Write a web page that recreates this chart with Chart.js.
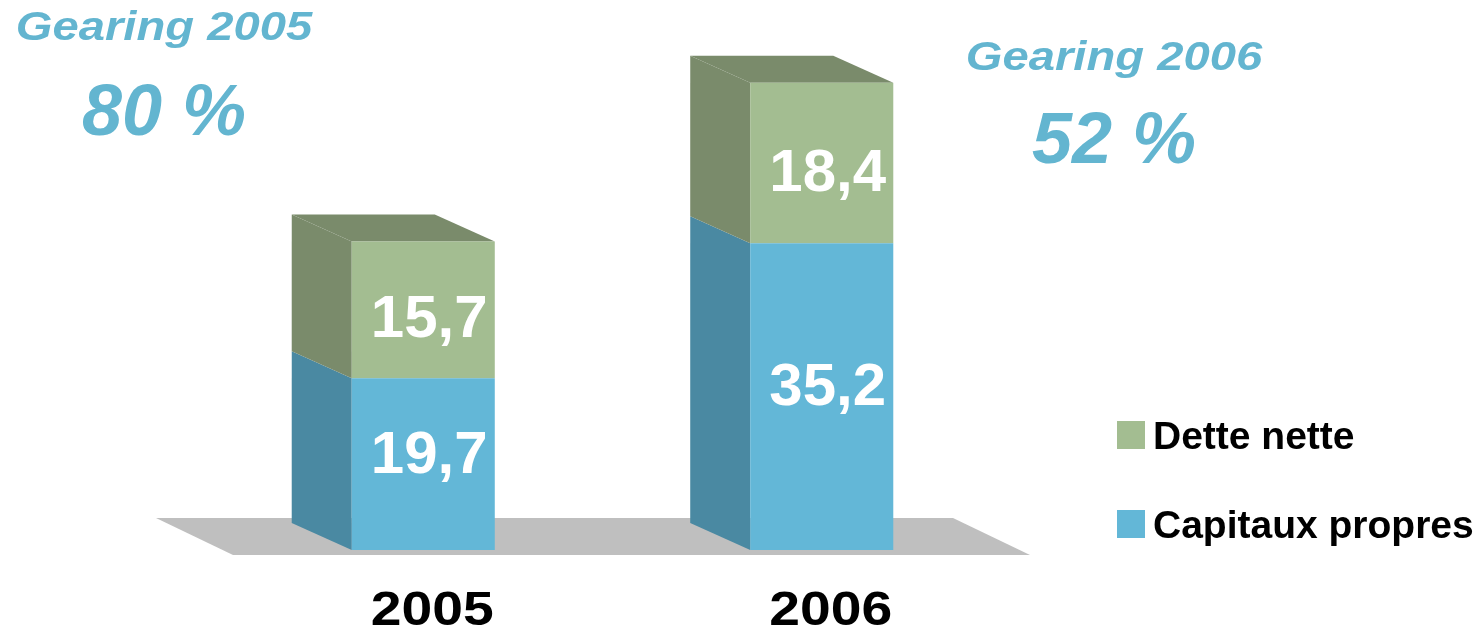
<!DOCTYPE html>
<html>
<head>
<meta charset="utf-8">
<script src="https://cdn.jsdelivr.net/npm/chart.js@4/dist/chart.umd.min.js"></script>
<style>
  html, body { margin: 0; padding: 0; background: #ffffff; }
  #wrap { position: relative; width: 1483px; height: 629px; }
</style>
</head>
<body>
<div id="wrap"><canvas id="c"></canvas></div>
<script>
// ---- data ----
const categories = ['2005', '2006'];
const capitauxPropres = [19.7, 35.2];
const detteNette = [15.7, 18.4];
const gearingTitles = ['Gearing 2005', 'Gearing 2006'];
const gearingValues = ['80 %', '52 %'];
const seriesNames = ['Capitaux propres', 'Dette nette'];

// ---- styles ----
const FONT = '"Liberation Sans", Arial, sans-serif';
const BLUE = '#63b7d7', BLUE_SIDE = '#4a89a2';
const GREEN = '#a3bd91', GREEN_SIDE = '#7a8b6b';
const GEAR = '#63b5d0';
const FLOOR = '#bfbfbf';
const DEPTH_X = -60, DEPTH_Y = -27;

const sideColors = [BLUE_SIDE, GREEN_SIDE];
const labelShiftY = [-10, 9];

const fmt = v => String(v).replace('.', ',');

function stretchedText(ctx, text, x, y, sx) {
  ctx.save();
  ctx.translate(x, y);
  ctx.scale(sx, 1);
  ctx.fillText(text, 0, 0);
  ctx.restore();
}

const threeD = {
  id: 'threeD',
  beforeDatasetsDraw(chart) {
    const ctx = chart.ctx;
    const area = chart.chartArea;
    const y0 = chart.scales.y.getPixelForValue(0);
    // floor
    ctx.save();
    ctx.fillStyle = FLOOR;
    const fx0 = area.left + 9, fx1 = area.right + 9, fy = y0 + 5;
    ctx.beginPath();
    ctx.moveTo(fx0, fy);
    ctx.lineTo(fx1, fy);
    ctx.lineTo(fx1 - 77, fy - 37);
    ctx.lineTo(fx0 - 77, fy - 37);
    ctx.closePath();
    ctx.fill();
    // side and top faces
    const n = chart.data.datasets.length;
    chart.data.datasets.forEach((ds, di) => {
      const meta = chart.getDatasetMeta(di);
      meta.data.forEach(bar => {
        const p = bar.getProps(['x', 'y', 'base', 'width'], true);
        const left = p.x - p.width / 2, right = p.x + p.width / 2;
        const top = Math.min(p.y, p.base), bottom = Math.max(p.y, p.base);
        ctx.fillStyle = sideColors[di];
        ctx.beginPath();
        ctx.moveTo(left, bottom);
        ctx.lineTo(left, top);
        ctx.lineTo(left + DEPTH_X, top + DEPTH_Y);
        ctx.lineTo(left + DEPTH_X, bottom + DEPTH_Y);
        ctx.closePath();
        ctx.fill();
        if (di === n - 1) {
          ctx.fillStyle = GREEN_SIDE;
          ctx.beginPath();
          ctx.moveTo(left, top);
          ctx.lineTo(right, top);
          ctx.lineTo(right + DEPTH_X, top + DEPTH_Y);
          ctx.lineTo(left + DEPTH_X, top + DEPTH_Y);
          ctx.closePath();
          ctx.fill();
        }
      });
    });
    ctx.restore();
  },
  afterDatasetsDraw(chart) {
    const ctx = chart.ctx;
    ctx.save();
    ctx.fillStyle = '#ffffff';
    ctx.font = 'bold 60px ' + FONT;
    ctx.textAlign = 'center';
    ctx.textBaseline = 'middle';
    chart.data.datasets.forEach((ds, di) => {
      const meta = chart.getDatasetMeta(di);
      meta.data.forEach((bar, i) => {
        const p = bar.getProps(['x', 'y', 'base'], true);
        ctx.fillText(fmt(ds.data[i]), p.x + 6, (p.y + p.base) / 2 + 2 + labelShiftY[di]);
      });
    });
    // category labels under the bars, from the x scale
    const xs = chart.scales.x;
    ctx.fillStyle = '#000000';
    ctx.font = 'bold 48px ' + FONT;
    ctx.textBaseline = 'alphabetic';
    chart.data.labels.forEach((lab, i) => {
      stretchedText(ctx, lab, xs.getPixelForValue(i) + 9, 625, 1.15);
    });
    ctx.restore();
  },
  afterDraw(chart) {
    const ctx = chart.ctx;
    ctx.save();
    // gearing annotations
    ctx.fillStyle = GEAR;
    ctx.textAlign = 'center';
    ctx.textBaseline = 'alphabetic';
    const gx = [164, 1114];
    const gy1 = [40, 70];
    const gy2 = [135, 163];
    for (let i = 0; i < gearingTitles.length; i++) {
      ctx.font = 'italic bold 40px ' + FONT;
      stretchedText(ctx, gearingTitles[i], gx[i], gy1[i], 1.18);
      ctx.font = 'italic bold 72px ' + FONT;
      ctx.fillText(gearingValues[i], gx[i], gy2[i]);
    }
    // legend (reverse order: Dette nette on top)
    ctx.textAlign = 'left';
    ctx.font = 'bold 39px ' + FONT;
    const ds = chart.data.datasets.slice().reverse();
    ds.forEach((d, k) => {
      const top = 421 + k * 89;
      ctx.fillStyle = d.backgroundColor;
      ctx.fillRect(1117, top, 28, 28);
      ctx.fillStyle = '#000000';
      ctx.fillText(d.label, 1153, top + 28);
    });
    ctx.restore();
  }
};

new Chart(document.getElementById('c'), {
  type: 'bar',
  data: {
    labels: categories,
    datasets: [
      { label: seriesNames[0], data: capitauxPropres, backgroundColor: BLUE },
      { label: seriesNames[1], data: detteNette, backgroundColor: GREEN }
    ]
  },
  options: {
    responsive: true,
    maintainAspectRatio: false,
    animation: false,
    layout: { padding: { left: 224, right: 462, top: 27, bottom: 79 } },
    datasets: { bar: { categoryPercentage: 1, barPercentage: 0.359, borderWidth: 0 } },
    plugins: { legend: { display: false }, tooltip: { enabled: false } },
    scales: {
      x: {
        stacked: true,
        grid: { display: false, drawTicks: false },
        border: { display: false },
        ticks: { display: false }
      },
      y: {
        stacked: true,
        display: false,
        min: 0,
        max: 60
      }
    }
  },
  plugins: [threeD]
});
</script>
</body>
</html>
